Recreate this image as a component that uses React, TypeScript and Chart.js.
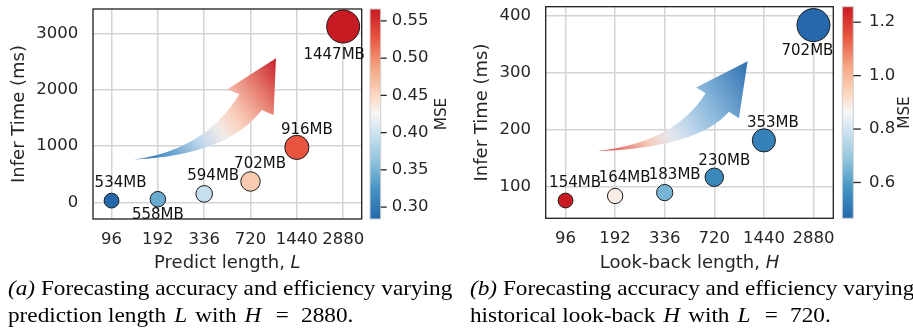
import React, { useEffect, useRef } from 'react';
import { Chart, registerables } from 'chart.js';

Chart.register(...registerables);

// ---------------- data ----------------
const lengthLabels = ['96', '192', '336', '720', '1440', '2880'];

const predInferTime = [30, 55, 150, 370, 975, 3120];
const predMSE = [0.284, 0.343, 0.395, 0.46, 0.528, 0.566];
const predMemory = [534, 558, 594, 702, 916, 1447];
const predYTicks = [0, 1000, 2000, 3000];
const predCbTicks = [0.3, 0.35, 0.4, 0.45, 0.5, 0.55];

const lookInferTime = [75, 83, 89, 116, 181, 384];
const lookMSE = [1.258, 0.885, 0.65, 0.545, 0.53, 0.466];
const lookMemory = [154, 164, 183, 230, 353, 702];
const lookYTicks = [100, 200, 300, 400];
const lookCbTicks = [0.6, 0.8, 1.0, 1.2];

// ---------------- styles ----------------
const FONT = '"DejaVu Sans", sans-serif';
const TEXT = '#262626';

const CMAP: [number, number, number, number][] = [
  [0, 37, 105, 172],
  [0.14, 67, 147, 195],
  [0.28, 146, 197, 222],
  [0.42, 209, 229, 240],
  [0.5, 247, 247, 247],
  [0.58, 253, 219, 199],
  [0.72, 244, 165, 130],
  [0.86, 232, 86, 64],
  [1, 200, 26, 34],
];

function cmap(t: number): string {
  t = Math.max(0, Math.min(1, t));
  for (let i = 1; i < CMAP.length; i++) {
    if (t <= CMAP[i][0]) {
      const a = CMAP[i - 1], b = CMAP[i];
      const f = (t - a[0]) / (b[0] - a[0]);
      const c = [1, 2, 3].map((k) => Math.round(a[k] + (b[k] - a[k]) * f));
      return `rgb(${c[0]},${c[1]},${c[2]})`;
    }
  }
  const l = CMAP[CMAP.length - 1];
  return `rgb(${l[1]},${l[2]},${l[3]})`;
}

function radii(mem: number[]): number[] {
  const rMin = 7.4, rMax = 16.5;
  const lo = Math.min(...mem), hi = Math.max(...mem);
  return mem.map((m) => Math.sqrt(rMin * rMin + ((m - lo) / (hi - lo)) * (rMax * rMax - rMin * rMin)));
}

type Pt = [number, number];
interface ArrowGeom {
  tail: Pt; upperCtrl: Pt; upperNotch: Pt; leftWing: Pt; tip: Pt; rightWing: Pt; lowerNotch: Pt; lowerCtrl: Pt;
  stops: [number, string][];
}

interface Cfg {
  width: number;
  height: number;
  left: number;
  area: { left: number; right: number; top: number; bottom: number };
  yMin: number; yMax: number;
  yTicks: number[];
  time: number[]; mse: number[]; mem: number[];
  cbTicks: number[]; cbDigits: number; cbGap: number; cbWidth: number; cbTickLen: number; cbLabelPad: number; mseX: number;
  yTitlePad: number;
  xTitleMain: string; xTitleVar: string;
  labelDx: number[]; labelDy: number[];
  arrow: ArrowGeom;
}

const predCfg: Cfg = {
  width: 460, height: 280, left: 0,
  area: { left: 93, right: 361.7, top: 9, bottom: 219 },
  yMin: -296, yMax: 3431, yTicks: predYTicks,
  time: predInferTime, mse: predMSE, mem: predMemory,
  cbTicks: predCbTicks, cbDigits: 2, cbGap: 8.3, cbWidth: 10.7, cbTickLen: 6, cbLabelPad: 30, mseX: 442.3,
  yTitlePad: 8.5,
  xTitleMain: 'Predict length, ', xTitleVar: 'L',
  labelDx: [9, 0, 9, 9.5, 10, -9],
  labelDy: [-17.5, 15.7, -17.3, -17.4, -17, 29],
  arrow: {
    tail: [0.153, 0.717], upperCtrl: [0.417, 0.671], upperNotch: [0.545, 0.406], leftWing: [0.5, 0.382],
    tip: [0.681, 0.235], rightWing: [0.672, 0.505], lowerNotch: [0.628, 0.481], lowerCtrl: [0.502, 0.695],
    stops: [[0, '#2166ac'], [0.2, '#6aa4d0'], [0.38, '#c5daee'], [0.5, '#f1ebe8'], [0.6, '#fad3c2'], [0.68, '#f5b8a6'], [0.82, '#e57a6c'], [1, '#c81e2b']],
  },
};

const lookCfg: Cfg = {
  width: 458, height: 280, left: 455,
  area: { left: 90.7, right: 378.3, top: 6.7, bottom: 218.3 },
  yMin: 43.7, yMax: 416.4, yTicks: lookYTicks,
  time: lookInferTime, mse: lookMSE, mem: lookMemory,
  cbTicks: lookCbTicks, cbDigits: 1, cbGap: 9, cbWidth: 11, cbTickLen: 7.5, cbLabelPad: 35.7, mseX: 449.7,
  yTitlePad: 17,
  xTitleMain: 'Look-back length, ', xTitleVar: 'H',
  labelDx: [9.5, 9.5, 10, 10, 9, -6],
  labelDy: [-17.8, -18.2, -17.7, -16.5, -17.5, 25.8],
  arrow: {
    tail: [0.181, 0.682], upperCtrl: [0.45, 0.64], upperNotch: [0.556, 0.409], leftWing: [0.523, 0.382],
    tip: [0.702, 0.258], rightWing: [0.672, 0.527], lowerNotch: [0.637, 0.496], lowerCtrl: [0.53, 0.665],
    stops: [[0, '#d0232e'], [0.14, '#e9877d'], [0.28, '#f6cdbf'], [0.4, '#e6e7ee'], [0.5, '#c4d9ec'], [0.7, '#86b5da'], [1, '#2d70b1']],
  },
};

function makeDecor(cfg: Cfg) {
  return {
    id: 'decor',
    beforeDatasetsDraw(chart: any) {
      const ctx: CanvasRenderingContext2D = chart.ctx;
      const a = chart.chartArea;
      ctx.save();
      ctx.strokeStyle = '#1f1f1f';
      ctx.lineWidth = 1.3;
      ctx.strokeRect(a.left, a.top, a.right - a.left, a.bottom - a.top);
      const g = cfg.arrow;
      const P = (f: Pt): Pt => [a.left + f[0] * (a.right - a.left), a.top + f[1] * (a.bottom - a.top)];
      const T = P(g.tail), CU = P(g.upperCtrl), U = P(g.upperNotch), W1 = P(g.leftWing), Tip = P(g.tip),
        W2 = P(g.rightWing), L = P(g.lowerNotch), CL = P(g.lowerCtrl);
      ctx.beginPath();
      ctx.moveTo(T[0], T[1]);
      ctx.quadraticCurveTo(CU[0], CU[1], U[0], U[1]);
      ctx.lineTo(W1[0], W1[1]);
      ctx.lineTo(Tip[0], Tip[1]);
      ctx.lineTo(W2[0], W2[1]);
      ctx.lineTo(L[0], L[1]);
      ctx.quadraticCurveTo(CL[0], CL[1], T[0], T[1]);
      ctx.closePath();
      const grad = ctx.createLinearGradient(T[0], T[1], Tip[0], Tip[1]);
      g.stops.forEach(([p, c]) => grad.addColorStop(p, c));
      ctx.fillStyle = grad;
      ctx.fill();
      ctx.restore();
    },
    afterDatasetsDraw(chart: any) {
      const ctx: CanvasRenderingContext2D = chart.ctx;
      const meta = chart.getDatasetMeta(0);
      ctx.save();
      ctx.font = `15px ${FONT}`;
      ctx.fillStyle = '#111111';
      ctx.textAlign = 'center';
      ctx.textBaseline = 'middle';
      meta.data.forEach((el: any, i: number) => {
        ctx.fillText(`${cfg.mem[i]}MB`, el.x + cfg.labelDx[i], el.y + cfg.labelDy[i]);
      });
      ctx.restore();
    },
    afterDraw(chart: any) {
      const ctx: CanvasRenderingContext2D = chart.ctx;
      const a = chart.chartArea;
      const cb = chart.scales.cb;
      ctx.save();
      const x0 = a.right + cfg.cbGap;
      const yTop = cb.getPixelForValue(cb.max);
      const yBot = cb.getPixelForValue(cb.min);
      const grad = ctx.createLinearGradient(0, yBot, 0, yTop);
      CMAP.forEach(([p, r, gg, b]) => grad.addColorStop(p, `rgb(${r},${gg},${b})`));
      ctx.fillStyle = grad;
      ctx.fillRect(x0, yTop, cfg.cbWidth, yBot - yTop);
      ctx.strokeStyle = '#cfcfcf';
      ctx.lineWidth = 1;
      ctx.strokeRect(x0, yTop, cfg.cbWidth, yBot - yTop);
      ctx.strokeStyle = TEXT;
      ctx.lineWidth = 1.3;
      cfg.cbTicks.forEach((v) => {
        const y = cb.getPixelForValue(v);
        ctx.beginPath();
        ctx.moveTo(x0 + cfg.cbWidth, y);
        ctx.lineTo(x0 + cfg.cbWidth + cfg.cbTickLen, y);
        ctx.stroke();
      });
      ctx.fillStyle = TEXT;
      ctx.font = `15.3px ${FONT}`;
      ctx.textAlign = 'center';
      ctx.textBaseline = 'middle';
      ctx.translate(cfg.mseX, (a.top + a.bottom) / 2);
      ctx.rotate(-Math.PI / 2);
      ctx.fillText('MSE', 0, 0);
      ctx.setTransform(1, 0, 0, 1, 0, 0);
      ctx.font = `18px ${FONT}`;
      const w1 = ctx.measureText(cfg.xTitleMain).width;
      ctx.font = `italic 18px ${FONT}`;
      const w2 = ctx.measureText(cfg.xTitleVar).width;
      const cx = (a.left + a.right) / 2;
      const sx = cx - (w1 + w2) / 2;
      const ty = 263.3;
      ctx.textAlign = 'left';
      ctx.font = `18px ${FONT}`;
      ctx.fillText(cfg.xTitleMain, sx, ty);
      ctx.font = `italic 18px ${FONT}`;
      ctx.fillText(cfg.xTitleVar, sx + w1, ty);
      ctx.restore();
    },
  };
}

function BubblePanel({ cfg }: { cfg: Cfg }) {
  const ref = useRef<HTMLCanvasElement | null>(null);
  useEffect(() => {
    const canvas = ref.current;
    if (!canvas) return;
    const r = radii(cfg.mem);
    const lo = Math.min(...cfg.mse), hi = Math.max(...cfg.mse);
    const colors = cfg.mse.map((v) => cmap((v - lo) / (hi - lo)));
    const a = cfg.area;
    const chart = new Chart(canvas, {
      type: 'bubble',
      data: {
        datasets: [
          {
            data: cfg.time.map((t, i) => ({ x: i, y: t, r: r[i] })),
            backgroundColor: colors,
            borderColor: '#1a1a1a',
            borderWidth: 1,
            hoverRadius: 0,
            clip: false,
          } as any,
        ],
      },
      options: {
        animation: false,
        responsive: false,
        events: [],
        layout: { autoPadding: false, padding: { top: a.top, left: 0, right: 0, bottom: 0 } },
        plugins: { legend: { display: false }, tooltip: { enabled: false } },
        scales: {
          x: {
            type: 'linear',
            position: 'bottom',
            min: -0.4,
            max: 5.4,
            afterBuildTicks: (s: any) => {
              s.ticks = lengthLabels.map((_, i) => ({ value: i }));
            },
            afterFit: (s: any) => {
              s.height = cfg.height - a.bottom;
              s.paddingLeft = 0;
              s.paddingRight = 0;
            },
            ticks: {
              callback: (v: any) => lengthLabels[Math.round(Number(v))],
              padding: 11,
              color: TEXT,
              font: { family: FONT, size: 16.5 },
              maxRotation: 0,
              autoSkip: false,
            },
            grid: { color: '#d4d4d4', lineWidth: 1.5, drawTicks: false },
            border: { display: false },
          },
          y: {
            type: 'linear',
            position: 'left',
            min: cfg.yMin,
            max: cfg.yMax,
            afterBuildTicks: (s: any) => {
              s.ticks = cfg.yTicks.map((v) => ({ value: v }));
            },
            afterFit: (s: any) => {
              s.width = a.left;
              s.paddingTop = 0;
              s.paddingBottom = 0;
            },
            ticks: {
              callback: (v: any) => String(v),
              padding: 14.7,
              color: TEXT,
              font: { family: FONT, size: 16.5 },
            },
            title: {
              display: true,
              text: 'Infer Time (ms)',
              color: TEXT,
              font: { family: FONT, size: 18 },
              padding: { top: cfg.yTitlePad, bottom: 0 },
            },
            grid: { color: '#d4d4d4', lineWidth: 1.5, drawTicks: false },
            border: { display: false },
          },
          cb: {
            type: 'linear',
            position: 'right',
            min: lo,
            max: hi,
            afterBuildTicks: (s: any) => {
              s.ticks = cfg.cbTicks.map((v) => ({ value: v }));
            },
            afterFit: (s: any) => {
              s.width = cfg.width - a.right;
              s.paddingTop = 0;
              s.paddingBottom = 0;
            },
            ticks: {
              callback: (v: any) => Number(v).toFixed(cfg.cbDigits),
              padding: cfg.cbLabelPad,
              color: TEXT,
              font: { family: FONT, size: 16.5 },
            },
            grid: { display: false, drawTicks: false, tickLength: 0 },
            border: { display: false },
          },
        },
      } as any,
      plugins: [makeDecor(cfg)],
    });
    return () => chart.destroy();
  }, [cfg]);
  return (
    <canvas
      ref={ref}
      width={cfg.width}
      height={cfg.height}
      style={{ position: 'absolute', left: cfg.left, top: 0, width: cfg.width, height: cfg.height }}
    />
  );
}

const capStyle: React.CSSProperties = {
  position: 'absolute',
  fontFamily: '"Liberation Serif", "Times New Roman", serif',
  fontSize: 21,
  lineHeight: '26.7px',
  color: '#000',
  whiteSpace: 'nowrap',
  top: 275.3,
  transform: 'scaleX(1.107)',
  transformOrigin: '0 0',
};

const mathVar: React.CSSProperties = { margin: '0 2px' };
const mathEq: React.CSSProperties = { margin: '0 11px' };

export default function App() {
  return (
    <div style={{ position: 'fixed', left: 0, top: 0, width: 913, height: 333, background: '#fff', overflow: 'hidden' }}>
      <BubblePanel cfg={predCfg} />
      <BubblePanel cfg={lookCfg} />
      <div style={{ ...capStyle, left: 8 }}>
        <div><i>(a)</i> Forecasting accuracy and efficiency varying</div>
        <div>prediction length <i style={mathVar}>L</i> with <i style={mathVar}>H</i><span style={mathEq}>=</span>2880.</div>
      </div>
      <div style={{ ...capStyle, left: 470 }}>
        <div><i>(b)</i> Forecasting accuracy and efficiency varying</div>
        <div>historical look-back <i style={mathVar}>H</i> with <i style={mathVar}>L</i><span style={mathEq}>=</span>720.</div>
      </div>
    </div>
  );
}
